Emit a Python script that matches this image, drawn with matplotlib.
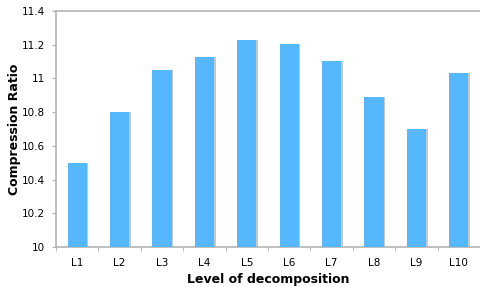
import numpy as np
import matplotlib
matplotlib.use('Agg')
import matplotlib.pyplot as plt

levels = ['L1', 'L2', 'L3', 'L4', 'L5', 'L6', 'L7', 'L8', 'L9', 'L10']
ratios = [10.5, 10.8, 11.05, 11.13, 11.225, 11.205, 11.105, 10.89, 10.7, 11.035]
yticks = [10, 10.2, 10.4, 10.6, 10.8, 11, 11.2, 11.4]
ytick_labels = ['10', '10.2', '10.4', '10.6', '10.8', '11', '11.2', '11.4']

fig = plt.figure(figsize=(4.81, 2.87), dpi=100)
ax = fig.add_axes([56 / 481, 1 - 247 / 287, 424 / 481, 236 / 287])

x = np.arange(len(levels))
# soft shadow on the right side of each bar
ax.bar(x + 0.04, [r - 10 for r in ratios], bottom=10, width=0.45,
       color='#c8c8c8', zorder=2)
ax.bar(x, [r - 10 for r in ratios], bottom=10, width=0.45,
       color='#55b8ff', zorder=3)

ax.set_xlim(-0.5, len(levels) - 0.5)
ax.set_ylim(10, 11.4)
ax.set_yticks(yticks)
ax.set_yticklabels(ytick_labels, fontsize=7.5)
ax.set_xticks(x)
ax.set_xticklabels(levels, fontsize=7.5)
ax.set_xticks(np.arange(-0.5, len(levels), 1), minor=True)
ax.tick_params(axis='x', which='major', length=0, pad=8)
ax.tick_params(axis='x', which='minor', length=3, color='#b0b0b0', direction='out')
ax.tick_params(axis='y', length=3, color='#b0b0b0', pad=5)

for side in ['left', 'bottom', 'top']:
    ax.spines[side].set_color('#b4b4b4')
    ax.spines[side].set_linewidth(1.2)
ax.spines['right'].set_visible(False)

fig.text(15 / 481, 1 - 129 / 287, 'Compression Ratio', fontsize=9, fontweight='bold',
         rotation=90, ha='center', va='center')
fig.text(268 / 481, 1 - 279 / 287, 'Level of decomposition', fontsize=9,
         fontweight='bold', ha='center', va='center')

fig.savefig('out.png', dpi=100)
